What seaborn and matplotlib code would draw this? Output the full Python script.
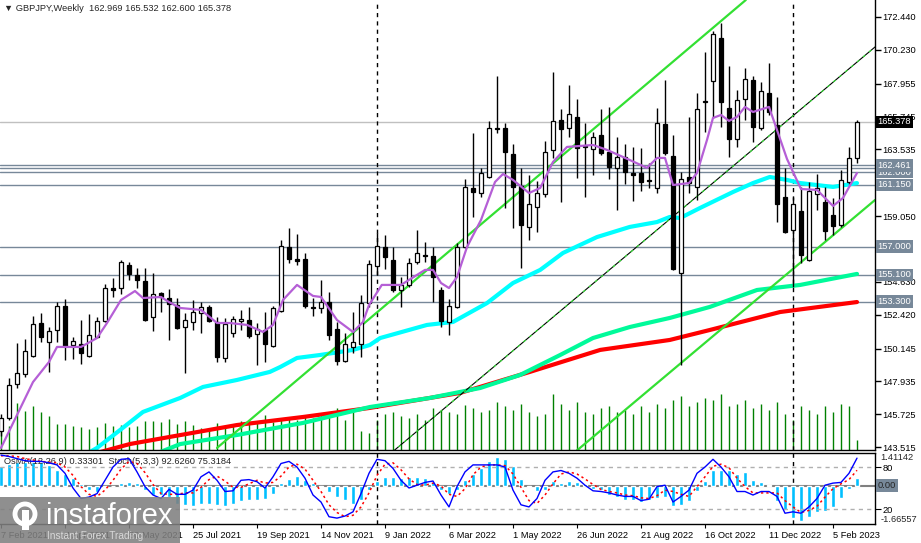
import matplotlib
matplotlib.use("Agg")
import matplotlib.pyplot as plt
from matplotlib.patches import Rectangle, Circle
from matplotlib.transforms import IdentityTransform
import seaborn as sns
import pandas as pd

sns.set_style("white")
plt.rcParams['font.family'] = ['Liberation Sans', 'DejaVu Sans']

# GBPJPY weekly candles, week 0 = 7 Feb 2021 ... week 107 = 26 Feb 2023
opens = [144.60, 145.47, 147.76, 148.43, 149.64, 151.86, 150.58, 151.39, 153.00, 150.38,
         150.45, 149.64, 150.92, 151.99, 154.21, 154.21, 155.76, 155.09, 154.69, 152.26,
         153.88, 153.54, 153.07, 151.59, 151.93, 152.53, 152.94, 151.93, 149.50, 151.19,
         151.99, 152.06, 151.12, 151.39, 150.31, 152.67, 156.97, 156.17, 156.17, 152.95,
         152.87, 153.27, 151.46, 149.30, 150.25, 150.45, 153.20, 155.69, 156.97, 156.10,
         154.08, 154.42, 155.96, 156.40, 156.37, 154.08, 151.93, 152.94, 156.97, 160.94,
         160.60, 161.68, 164.98, 164.98, 163.23, 161.07, 158.32, 159.66, 160.54, 163.50,
         165.51, 164.98, 165.72, 163.76, 163.56, 164.50, 163.36, 162.29, 163.03, 161.95,
         161.95, 161.48, 160.94, 165.24, 163.09, 155.22, 161.68, 161.01, 166.72, 168.14,
         171.03, 166.32, 164.23, 166.92, 168.20, 164.98, 167.33, 165.18, 160.33, 158.12,
         159.40, 156.10, 160.54, 160.00, 159.12, 158.45, 161.34, 162.969]
highs = [145.75, 148.17, 150.52, 150.78, 152.33, 152.53, 151.59, 153.27, 153.47, 150.92,
         152.06, 152.47, 152.26, 154.48, 154.89, 156.10, 155.96, 155.56, 155.56, 155.22,
         153.95, 154.15, 153.54, 152.53, 153.41, 153.27, 153.07, 152.26, 152.20, 152.33,
         152.74, 152.94, 151.86, 152.60, 153.00, 157.44, 158.25, 157.85, 156.57, 153.54,
         154.75, 153.95, 151.93, 151.19, 152.60, 153.74, 156.10, 157.92, 157.78, 156.97,
         154.95, 156.23, 158.12, 157.31, 156.97, 154.28, 153.47, 157.24, 161.55, 164.64,
         162.29, 165.45, 168.47, 165.31, 163.90, 162.29, 161.81, 161.40, 164.10, 168.74,
         166.25, 167.87, 166.92, 165.31, 164.71, 166.25, 166.39, 164.37, 163.90, 163.70,
         163.63, 162.62, 166.32, 168.20, 164.50, 162.02, 165.72, 167.33, 170.09, 171.50,
         172.04, 169.14, 167.53, 169.01, 168.47, 168.07, 169.35, 167.06, 162.29, 160.33,
         161.01, 161.34, 161.88, 161.01, 160.27, 162.15, 163.70, 165.532]
lows = [144.25, 145.34, 147.49, 148.23, 149.57, 150.58, 148.57, 150.58, 149.37, 149.44,
        149.10, 149.57, 150.85, 151.93, 153.61, 153.81, 154.75, 154.21, 151.99, 151.32,
        152.60, 150.72, 151.46, 148.50, 151.39, 151.19, 151.93, 149.24, 149.24, 150.92,
        151.39, 150.85, 149.03, 149.24, 150.25, 152.60, 155.90, 155.76, 152.87, 152.33,
        152.53, 150.72, 149.03, 149.24, 149.84, 149.57, 152.94, 155.09, 155.49, 153.95,
        152.94, 154.28, 155.83, 155.96, 153.27, 151.59, 151.05, 152.87, 156.90, 158.99,
        160.33, 161.61, 164.64, 159.60, 158.25, 155.56, 157.44, 157.98, 160.33, 162.96,
        160.00, 164.37, 161.61, 160.33, 161.81, 163.16, 161.55, 159.46, 161.21, 160.07,
        160.74, 160.94, 160.60, 163.16, 155.42, 149.03, 160.60, 160.13, 164.71, 165.65,
        165.04, 163.03, 163.70, 165.51, 164.03, 164.84, 165.85, 158.65, 157.92, 154.28,
        155.90, 156.03, 159.46, 157.44, 157.78, 158.32, 161.21, 162.600]
closes = [145.47, 147.69, 148.50, 149.98, 151.79, 150.92, 151.32, 153.00, 150.31, 150.65,
          149.84, 151.05, 151.99, 154.21, 154.08, 155.96, 155.16, 154.75, 152.06, 153.81,
          153.61, 153.14, 151.52, 152.06, 152.60, 152.94, 151.99, 149.57, 151.79, 152.13,
          152.13, 150.98, 151.46, 150.45, 152.87, 157.04, 156.17, 156.03, 153.00, 152.90,
          153.27, 151.05, 149.30, 150.45, 150.58, 153.20, 155.83, 157.04, 156.30, 154.08,
          154.42, 155.90, 156.57, 156.35, 154.95, 151.99, 153.00, 156.97, 161.00, 160.67,
          161.95, 164.98, 164.90, 163.36, 161.01, 158.45, 159.87, 160.60, 163.36, 165.45,
          164.91, 165.92, 163.63, 163.70, 164.37, 163.29, 162.35, 163.03, 162.02, 161.81,
          161.34, 161.41, 165.31, 163.29, 155.49, 161.55, 161.27, 166.25, 166.79, 171.30,
          166.72, 164.23, 166.86, 168.27, 165.04, 167.46, 166.05, 159.87, 157.98, 159.87,
          156.43, 160.74, 160.94, 158.05, 158.38, 161.48, 162.96, 165.378]
# tick volume (relative units)
tick_volume = [20, 24, 47, 39, 44, 38, 34, 26, 26, 24, 23, 21, 23, 27, 24, 25, 23, 24, 29, 29,
               28, 31, 26, 29, 25, 22, 21, 27, 22, 25, 29, 30, 27, 35, 28, 32, 32, 30, 35, 32,
               35, 34, 42, 30, 39, 19, 17, 30, 36, 38, 34, 32, 36, 30, 42, 40, 38, 36, 45, 42,
               38, 40, 48, 44, 40, 46, 38, 34, 36, 56, 46, 40, 48, 38, 36, 42, 44, 38, 40, 36,
               44, 38, 46, 42, 50, 54, 44, 48, 52, 50, 56, 44, 46, 50, 42, 46, 40, 48, 36, 30,
               44, 40, 36, 44, 38, 46, 44, 10]

# moving averages (week, price)
ma_fast_wk = [0, 4, 6, 7, 10, 12, 13.25, 15, 16.75, 17.75, 20, 21, 22.4, 25, 27, 28.6, 30.75,
              32.75, 34, 35.25, 37, 39, 40, 42, 44, 45.25, 46, 47.6, 50, 53, 54, 55, 56, 57,
              58.25, 60, 61.75, 62.75, 64, 66, 67.4, 69, 70.75, 74, 75.75, 78.6, 80.75, 82, 83,
              84, 86, 87, 88.25, 89, 90, 91, 92, 93, 94, 96, 97, 98.25, 100, 102, 104, 105.25, 107]
ma_fast = [143.46, 147.89, 149.24, 150.25, 150.25, 150.85, 151.86, 153.41, 154.01, 153.54,
           153.61, 153.27, 152.87, 152.74, 151.86, 151.86, 151.73, 151.26, 151.73, 153.41,
           154.42, 153.68, 153.61, 152.06, 151.26, 151.93, 153.07, 154.42, 154.42, 155.43,
           155.43, 154.55, 154.21, 154.95, 156.97, 158.79, 161.34, 161.88, 161.48, 160.60,
           160.94, 162.69, 163.70, 163.83, 163.50, 162.82, 162.29, 162.96, 162.96, 161.14,
           161.27, 161.95, 164.17, 165.65, 165.85, 165.45, 165.72, 166.39, 166.05, 166.39,
           164.84, 162.89, 160.87, 160.81, 159.73, 160.27, 161.95]
ma_mid_wk = [11.1, 12, 14.9, 17.75, 22.4, 25.25, 29.5, 33.6, 34.9, 37, 39.9, 44, 46.1, 47.4,
             53.25, 56.5, 60.75, 64, 67.4, 70.25, 74.5, 78.6, 82, 83.6, 84.9, 87.4, 91.5, 94,
             96.1, 98.25, 99.9, 104, 107]
ma_mid = [143.18, 143.46, 144.67, 145.88, 146.82, 147.56, 148.03, 148.57, 148.90, 149.51,
          149.71, 150.05, 150.38, 150.85, 151.73, 151.93, 153.20, 154.55, 155.43, 156.57,
          157.64, 158.32, 158.65, 158.99, 158.92, 159.60, 160.67, 161.27, 161.68, 161.48,
          161.27, 161.01, 161.27]
ma_slow_wk = [19.9, 22.4, 29.5, 37.75, 46.1, 53.6, 59.9, 64.9, 69.9, 74, 78.6, 83.6, 88.6,
              94.5, 99.9, 107]
ma_slow = [143.18, 143.72, 144.33, 145.14, 146.21, 146.82, 147.49, 148.37, 149.71, 150.85,
           151.59, 152.20, 152.94, 154.08, 154.42, 155.16]
ma_long_wk = [12.4, 16.1, 21.1, 29.5, 37.75, 46.1, 57.4, 66.1, 74.9, 83.6, 88.6, 97.4, 107]
ma_long = [143.18, 143.72, 144.20, 145.00, 145.54, 146.15, 147.16, 148.57, 150.05, 150.72,
           151.39, 152.60, 153.27]

# trend channel lines (week, price)
chan_upper_wk, chan_upper = [27.0, 93.1], [143.46, 173.58]
chan_lower_wk, chan_lower = [71.75, 109.25], [143.18, 160.13]
chan_mid_wk, chan_mid = [48.9, 109.25], [143.18, 170.42]

levels = [162.461, 162.30, 162.000, 161.150, 157.000, 155.100, 153.300]
level_labels = [162.000, 162.461, 161.150, 157.000, 155.100, 153.300]
last_price = 165.378
price_ticks = [172.440, 170.230, 167.955, 165.745, 163.535, 159.050,
               154.630, 152.420, 150.145, 147.935, 145.725, 143.515]
year_starts = [47, 99]

# OsMA(12,26,9) and Stoch(5,3,3)
osma = [0.86, 0.93, 1.00, 1.04, 1.04, 1.00, 0.90, 0.67, 0.50, 0.33,
        0.07, -0.19, -0.29, -0.07, -0.04, 0.10, 0.14, 0.10, -0.21, -0.43,
        -0.43, -0.50, -0.79, -0.86, -0.90, -0.79, -0.79, -0.86, -0.90, -0.79,
        -0.69, -0.64, -0.61, -0.57, -0.36, 0.10, 0.29, 0.43, 0.24, 0.10,
        -0.07, -0.29, -0.50, -0.64, -0.79, -0.64, -0.21, 0.21, 0.39, 0.39,
        0.33, 0.36, 0.39, 0.33, 0.14, -0.19, -0.36, -0.19, 0.24, 0.50,
        0.76, 1.07, 1.24, 1.14, 0.86, 0.29, -0.07, -0.24, -0.21, 0.19,
        0.10, 0.21, 0.14, 0.07, -0.14, -0.19, -0.39, -0.50, -0.64, -0.61,
        -0.71, -0.64, -0.53, -0.50, -0.89, -0.86, -0.69, -0.24, 0.19, 0.67,
        0.67, 0.67, 0.50, 0.57, 0.24, 0.17, 0.02, -0.67, -1.07, -1.40,
        -1.53, -1.36, -1.14, -1.10, -0.93, -0.53, -0.14, 0.333]
stoch_main = [97, 95, 92, 89, 88, 88, 86, 83, 71, 50,
              35, 37, 42, 61, 80, 91, 92, 73, 52, 40,
              35, 48, 41, 41, 47, 66, 73, 61, 45, 46,
              61, 62, 59, 50, 66, 85, 88, 80, 64, 40,
              30, 9, 7, 10, 16, 42, 71, 91, 89, 78,
              61, 50, 54, 58, 60, 40, 23, 52, 73, 83,
              83, 83, 83, 80, 47, 26, 23, 35, 61, 73,
              75, 71, 64, 54, 46, 45, 43, 40, 38, 38,
              32, 34, 52, 54, 30, 38, 47, 71, 80, 91,
              80, 66, 45, 45, 40, 45, 45, 38, 14, 16,
              14, 23, 35, 54, 57, 58, 71, 92.63]
stoch_signal = [96, 96, 95, 92, 90, 88, 87, 86, 80, 68,
                52, 41, 38, 47, 61, 77, 88, 85, 72, 55,
                42, 41, 41, 43, 43, 51, 62, 67, 60, 51,
                51, 56, 61, 57, 58, 67, 80, 84, 77, 61,
                45, 26, 15, 9, 11, 23, 43, 68, 84, 86,
                76, 63, 55, 54, 57, 53, 41, 38, 49, 69,
                80, 83, 83, 82, 70, 51, 32, 28, 40, 56,
                70, 73, 70, 63, 55, 48, 45, 43, 40, 39,
                36, 35, 39, 47, 45, 41, 38, 52, 66, 81,
                84, 79, 64, 52, 43, 43, 43, 43, 32, 23,
                15, 18, 24, 37, 49, 56, 62, 75.32]

date_weeks = list(range(0, 105, 8))
date_labels = ['7 Feb 2021', '4 Apr 2021', '30 May 2021', '25 Jul 2021', '19 Sep 2021',
               '14 Nov 2021', '9 Jan 2022', '6 Mar 2022', '1 May 2022', '26 Jun 2022',
               '21 Aug 2022', '16 Oct 2022', '11 Dec 2022', '5 Feb 2023']

df = pd.DataFrame({'week': range(len(opens)), 'open': opens, 'high': highs,
                   'low': lows, 'close': closes, 'volume': tick_volume,
                   'osma': osma, 'main': stoch_main, 'signal': stoch_signal})

FS = 6.7
W, H = 921, 543
fig = plt.figure(figsize=(W / 100, H / 100), dpi=100)
ax = fig.add_axes([0, 93 / H, 875 / W, 450 / H])
axl = fig.add_axes([0, 19 / H, 875 / W, 71 / H])
xlim = (-0.125, 109.25)

# volume behind the price panel
axv = ax.twinx()
axv.set_zorder(0)
ax.set_zorder(1)
ax.patch.set_visible(False)
axv.vlines(df.week, 0, df.volume, color='#008000', lw=1)
axv.set_ylim(0, 450)
axv.set_yticks([])
for s in axv.spines.values():
    s.set_visible(False)

# horizontal levels
for lv in levels:
    ax.axhline(lv, color='#778899', lw=1, zorder=1)
ax.axhline(last_price, color='#C0C0C0', lw=1, zorder=1)
for wk in year_starts:
    ax.axvline(wk, color='black', lw=1, ls=(0, (3, 3)), zorder=1)
    axl.axvline(wk, color='black', lw=1, ls=(0, (3, 3)), zorder=1)

# moving averages
sns.lineplot(x=ma_long_wk, y=ma_long, ax=ax, color='#FF0000', lw=3, zorder=2)
sns.lineplot(x=ma_slow_wk, y=ma_slow, ax=ax, color='#00FA9A', lw=3, zorder=2)
sns.lineplot(x=ma_mid_wk, y=ma_mid, ax=ax, color='#00FFFF', lw=3, zorder=2)

# channel
ax.plot(chan_upper_wk, chan_upper, color='#33E033', lw=1.6, zorder=2)
ax.plot(chan_lower_wk, chan_lower, color='#33E033', lw=1.6, zorder=2)
ax.plot(chan_mid_wk, chan_mid, color='black', lw=0.8, zorder=2)
ax.plot(chan_mid_wk, chan_mid, color='#33E033', lw=0.8, ls=(0, (3, 4)), zorder=2)

# candles
up = df.close >= df.open
ax.vlines(df.week, df.low, df.high, color='black', lw=1, zorder=3)
body = (df.close - df.open).abs().clip(lower=0.04)
ax.bar(df.week, body, bottom=df[['open', 'close']].min(axis=1), width=0.6,
       color=['white' if u else 'black' for u in up], edgecolor='black', lw=0.9, zorder=4)

sns.lineplot(x=ma_fast_wk, y=ma_fast, ax=ax, color='#B55FD6', lw=1.6, zorder=5)

ax.set_xlim(*xlim)
ax.set_ylim(143.32, 173.58)
ax.set_xticks([])
ax.set_xlabel('')
ax.set_ylabel('')
ax.yaxis.tick_right()
ax.set_yticks(price_ticks)
ax.set_yticklabels([f'{v:.3f}' for v in price_ticks], fontsize=FS, color='black')
ax.tick_params(axis='y', right=True, left=False, labelright=True, labelleft=False,
               direction='out', length=4, width=1, pad=1.5, colors='black')
for side in ['left', 'top']:
    ax.spines[side].set_visible(False)
for side in ['right', 'bottom']:
    ax.spines[side].set_color('black')
    ax.spines[side].set_linewidth(1)

ytr = ax.get_yaxis_transform()
for lv in level_labels:
    ax.text(1.003, lv, f'{lv:.3f}', transform=ytr, ha='left', va='center', fontsize=FS,
            color='white', clip_on=False, zorder=10,
            bbox=dict(boxstyle='square,pad=0.18', fc='#778899', ec='none'))
ax.text(1.003, last_price, f'{last_price:.3f}', transform=ytr, ha='left', va='center',
        fontsize=FS, color='white', clip_on=False, zorder=11,
        bbox=dict(boxstyle='square,pad=0.18', fc='black', ec='none'))

# lower panel: OsMA histogram + stochastic
axl.bar(df.week, df.osma, width=0.45, color='#00BFFF', zorder=2)
axl.axhline(0, color='#808080', lw=1.5, zorder=1)
axl.set_xlim(*xlim)
axl.set_ylim(-1.66557, 1.41142)
axl.set_yticks([])
axs = axl.twinx()
axs.axhline(80, color='#B0B0B0', lw=1, ls=(0, (3, 3)))
axs.axhline(20, color='#B0B0B0', lw=1, ls=(0, (3, 3)))
sns.lineplot(x=df.week, y=df.signal, ax=axs, color='#FF0000', lw=1.1, ls=(0, (1.5, 2)))
sns.lineplot(x=df.week, y=df.main, ax=axs, color='#0000FF', lw=1)
axs.set_ylim(-1.4, 100)
axs.set_xlim(*xlim)
axs.set_ylabel('')
axs.set_yticks([80, 20])
axs.set_yticklabels(['80', '20'], fontsize=FS, color='black')
axs.tick_params(axis='y', right=True, direction='out', length=4, pad=1.5, colors='black')
for s in axs.spines.values():
    s.set_visible(False)
axl.spines['left'].set_visible(False)
for side in ['right', 'bottom', 'top']:
    axl.spines[side].set_color('black')
    axl.spines[side].set_linewidth(1)
ltr = axl.get_yaxis_transform()
axl.text(1.006, 1.41142, '1.41142', transform=ltr, ha='left', va='top', fontsize=FS)
axl.text(1.006, -1.66557, '-1.66557', transform=ltr, ha='left', va='bottom', fontsize=FS)
axl.text(1.003, 0, '0.00', transform=ltr, ha='left', va='center', fontsize=FS, zorder=10,
         bbox=dict(boxstyle='square,pad=0.18', fc='#778899', ec='none'))
axl.set_xticks(date_weeks)
axl.set_xticklabels(date_labels, fontsize=FS, ha='left', color='black')
axl.tick_params(axis='x', bottom=True, length=3, pad=2, colors='black')
axl.set_xlabel('')
axl.text(0.004, 0.95, 'OsMA(12,26,9) 0.33301  Stoch(5,3,3) 92.6260 75.3184',
         transform=axl.transAxes, ha='left', va='top', fontsize=FS, zorder=10)

fig.text(0.004, 0.993, '\u25bc GBPJPY,Weekly  162.969 165.532 162.600 165.378',
         ha='left', va='top', fontsize=FS)

# watermark
fig.add_artist(Rectangle((0, 0), 180 / W, 46 / H, transform=fig.transFigure,
                         fc='#808080', ec='none', alpha=0.88, zorder=20))
fig.add_artist(Circle((25, H - 514), 10, transform=IdentityTransform(), fill=False,
                      ec='white', lw=3.5, zorder=21))
fig.add_artist(Rectangle((22, H - 530), 7, 20, transform=IdentityTransform(),
                         fc='white', ec='none', zorder=21))
fig.text(46 / W, (H - 516) / H, 'instaforex', color='white', fontsize=21,
         ha='left', va='center', zorder=22)
fig.text(47 / W, (H - 536) / H, 'Instant Forex Trading', color='#d8d8d8', fontsize=7.3,
         ha='left', va='center', zorder=22)

fig.savefig('out.png', dpi=100)
